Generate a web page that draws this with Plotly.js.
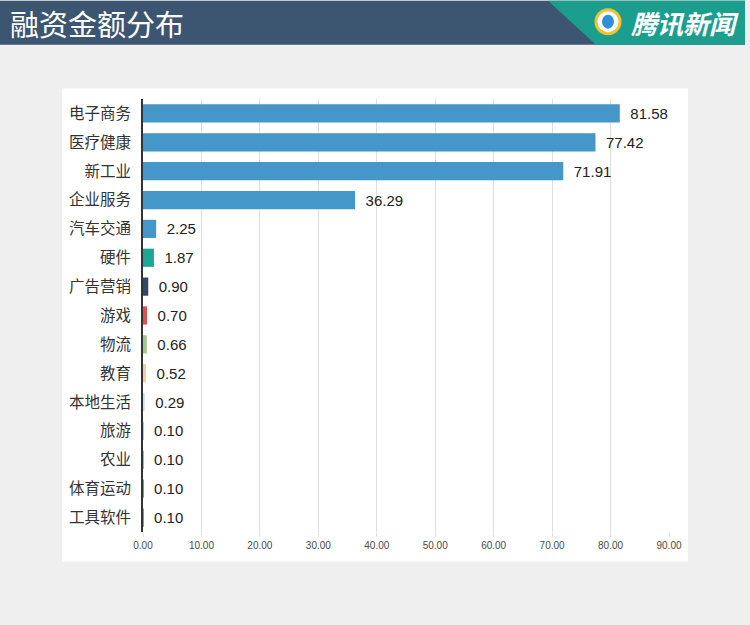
<!DOCTYPE html>
<html><head><meta charset="utf-8">
<script src="https://cdn.plot.ly/plotly-3.0.1.min.js"></script>
<style>html,body{margin:0;padding:0;background:#efefef;}#chart{width:750px;height:625px;}</style>
</head><body><div id="chart"></div>
<script>
const categories = ["电子商务","医疗健康","新工业","企业服务","汽车交通","硬件","广告营销","游戏","物流","教育","本地生活","旅游","农业","体育运动","工具软件"];
const amounts = [81.58,77.42,71.91,36.29,2.25,1.87,0.90,0.70,0.66,0.52,0.29,0.10,0.10,0.10,0.10];
const barColors = ["#4596c9","#4596c9","#4596c9","#4596c9","#4596c9","#1fa595","#34495e","#d9534f","#a9c98c","#e9d3a8","#bfe0f0","#5aaed8","#5a7f99","#34495e","#34495e"];
const xTicks = [0,10,20,30,40,50,60,70,80,90];

const W = 750, H = 625, L = 143, R = 81, T = 98.5, B = 92.5;
const pw = W - L - R, ph = H - T - B;
const px = v => (v - L) / pw;
const py = v => (H - B - v) / ph;

const trace = {
  type: 'bar', orientation: 'h',
  x: amounts, y: categories,
  marker: {color: barColors},
  text: amounts.map(v => '\u2002' + v.toFixed(2)),
  textposition: 'outside',
  textfont: {family: 'Liberation Sans, Arial, sans-serif', size: 15, color: '#222'},
  cliponaxis: false,
  hoverinfo: 'none'
};

const layout = {
  width: W, height: H,
  margin: {l: L, r: R, t: T, b: B},
  paper_bgcolor: '#efefef', plot_bgcolor: 'rgba(0,0,0,0)',
  showlegend: false,
  bargap: 0.37,
  font: {family: 'Liberation Sans, "Noto Sans CJK SC", sans-serif'},
  xaxis: {
    range: [0, 90], tickvals: xTicks, tickformat: '.2f',
    showgrid: true, gridcolor: '#dedede', gridwidth: 1,
    zeroline: false, showline: false,
    ticks: 'outside', ticklen: 4, tickcolor: '#dedede',
    tickfont: {size: 10, color: '#4a4a4a'},
    fixedrange: true
  },
  yaxis: {
    autorange: 'reversed', type: 'category',
    showline: true, linecolor: '#333', linewidth: 2,
    showgrid: false, zeroline: false, ticks: '',
    ticklabelstandoff: 7,
    tickfont: {family: '"Noto Sans CJK SC", sans-serif', size: 15.5, color: '#333'},
    fixedrange: true
  },
  shapes: [
    {type: 'rect', xref: 'paper', yref: 'paper', layer: 'below',
     x0: px(62), x1: px(688), y0: py(562), y1: py(88),
     fillcolor: '#ffffff', line: {width: 0}},
    {type: 'rect', xref: 'paper', yref: 'paper', layer: 'below',
     x0: px(0), x1: px(745), y0: py(44), y1: py(0),
     fillcolor: '#3c5570', line: {width: 0}},
    {type: 'path', xref: 'paper', yref: 'paper', layer: 'below',
     path: 'M ' + px(548) + ',' + py(0) + ' L ' + px(745) + ',' + py(0) + ' L ' + px(745) + ',' + py(44) + ' L ' + px(596) + ',' + py(44) + ' Z',
     fillcolor: '#1c9e8f', line: {width: 0}},
    {type: 'circle', xref: 'paper', yref: 'paper', layer: 'above',
     x0: px(596), x1: px(620), y0: py(33), y1: py(9),
     fillcolor: '#ffffff', line: {color: '#f2c230', width: 3}},
    {type: 'circle', xref: 'paper', yref: 'paper', layer: 'above',
     x0: px(602), x1: px(614), y0: py(28), y1: py(14),
     fillcolor: '#2e8fd6', line: {width: 0}}
  ],
  annotations: [
    {xref: 'paper', yref: 'paper', x: px(8), y: py(22), xanchor: 'left', yanchor: 'middle',
     text: '融资金额分布', showarrow: false,
     font: {family: '"Noto Sans CJK SC", sans-serif', size: 29, color: '#ffffff'}},
    {xref: 'paper', yref: 'paper', x: px(741), y: py(22), xanchor: 'right', yanchor: 'middle',
     text: '<b><i>腾讯新闻</i></b>', showarrow: false,
     font: {family: '"Noto Sans CJK SC", sans-serif', size: 26, color: '#ffffff'}}
  ]
};

Plotly.newPlot('chart', [trace], layout, {displayModeBar: false, staticPlot: true});
</script></body></html>
